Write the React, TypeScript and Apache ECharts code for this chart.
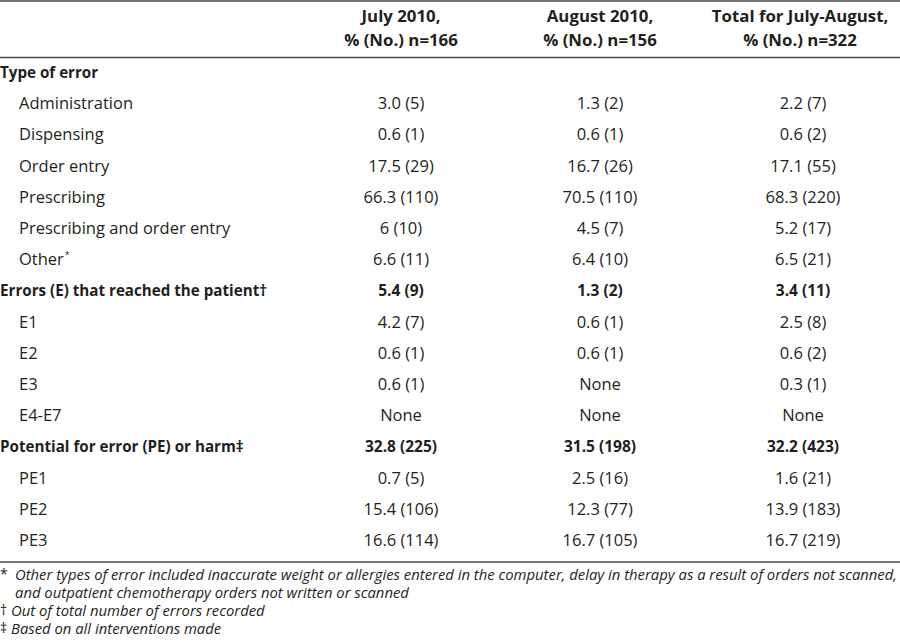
import React, { useEffect, useRef } from "react";
import * as echarts from "echarts";

const columnHeads = [
  ["July 2010,", "% (No.) n=166"],
  ["August 2010,", "% (No.) n=156"],
  ["Total for July-August,", "% (No.) n=322"],
];

const categories = [
  "Type of error",
  "Administration",
  "Dispensing",
  "Order entry",
  "Prescribing",
  "Prescribing and order entry",
  "Other",
  "Errors (E) that reached the patient†",
  "E1",
  "E2",
  "E3",
  "E4-E7",
  "Potential for error (PE) or harm‡",
  "PE1",
  "PE2",
  "PE3",
];

const sectionRows = [0, 7, 12];
const footnoteMarkRows = [6];

const july = ["", "3.0 (5)", "0.6 (1)", "17.5 (29)", "66.3 (110)", "6 (10)", "6.6 (11)", "5.4 (9)", "4.2 (7)", "0.6 (1)", "0.6 (1)", "None", "32.8 (225)", "0.7 (5)", "15.4 (106)", "16.6 (114)"];
const august = ["", "1.3 (2)", "0.6 (1)", "16.7 (26)", "70.5 (110)", "4.5 (7)", "6.4 (10)", "1.3 (2)", "0.6 (1)", "0.6 (1)", "None", "None", "31.5 (198)", "2.5 (16)", "12.3 (77)", "16.7 (105)"];
const total = ["", "2.2 (7)", "0.6 (2)", "17.1 (55)", "68.3 (220)", "5.2 (17)", "6.5 (21)", "3.4 (11)", "2.5 (8)", "0.6 (2)", "0.3 (1)", "None", "32.2 (423)", "1.6 (21)", "13.9 (183)", "16.7 (219)"];

const footnotes = [
  ["*", "Other types of error included inaccurate weight or allergies entered in the computer, delay in therapy as a result of orders not scanned,"],
  ["", "and outpatient chemotherapy orders not written or scanned"],
  ["†", "Out of total number of errors recorded"],
  ["‡", "Based on all interventions made"],
];

const FONT = "Open Sans";
const INK = "#231f20";

export default function App() {
  const ref = useRef<HTMLDivElement>(null);
  useEffect(() => {
    if (!ref.current) return;
    const chart = echarts.init(ref.current, null, { renderer: "svg" });
    const colX = [401, 600, 803];
    const rowY0 = 71.5;
    const rowStep = 31.2;
    const els: any[] = [];
    const txt = (x: number, y: number, text: string, opts: any = {}) => {
      els.push({
        type: "text",
        x,
        y,
        scaleX: opts.sx || 1,
        style: {
          text,
          fill: INK,
          fontFamily: FONT,
          fontSize: opts.size || 16.5,
          fontWeight: opts.bold ? "bold" : "normal",
          fontStyle: opts.italic ? "italic" : "normal",
          textAlign: opts.align || "left",
          textVerticalAlign: "middle",
          rich: opts.rich,
        },
      });
    };
    const hline = (y: number) =>
      els.push({ type: "line", shape: { x1: 0, y1: y, x2: 900, y2: y }, style: { stroke: "#4a4a4a", lineWidth: 1.6 } });

    hline(1);
    hline(57.5);
    hline(562);

    columnHeads.forEach((h, i) => {
      const x = colX[i] - (i === 2 ? 3 : 0);
      txt(x, 16, h[0], { bold: true, align: "center", size: 16.5, sx: 1.02 });
      txt(x, 40, h[1], { bold: true, align: "center", size: 16.5, sx: 1.02 });
    });

    categories.forEach((c, r) => {
      const y = rowY0 + r * rowStep;
      const isSection = sectionRows.includes(r);
      if (footnoteMarkRows.includes(r)) {
        txt(19, y, `${c}{sup|*}`, {
          rich: { sup: { fontSize: 9, verticalAlign: "top", padding: [0, 0, 8, 1], fill: INK, fontFamily: FONT } },
        });
      } else {
        txt(isSection ? 0 : 19, y, c, { bold: isSection, sx: isSection ? 0.92 : 1 });
      }
      [july, august, total].forEach((col, i) => {
        if (col[r]) txt(colX[i], y, col[r], { bold: isSection, align: "center", sx: isSection ? 0.94 : 1 });
      });
    });

    footnotes.forEach((f, i) => {
      const y = 573.5 + i * 18;
      if (f[0]) txt(0, y, f[0], { size: 14 });
      txt(f[0] === "*" ? 15 : f[0] ? 11 : 15, y, f[1], { italic: true, size: 15, sx: 0.99 });
    });

    chart.setOption({
      animation: false,
      backgroundColor: "#ffffff",
      graphic: { elements: els },
    });
    return () => chart.dispose();
  }, []);
  return <div ref={ref} style={{ position: "fixed", left: 0, top: 0, width: 900, height: 643, background: "#fff" }} />;
}
